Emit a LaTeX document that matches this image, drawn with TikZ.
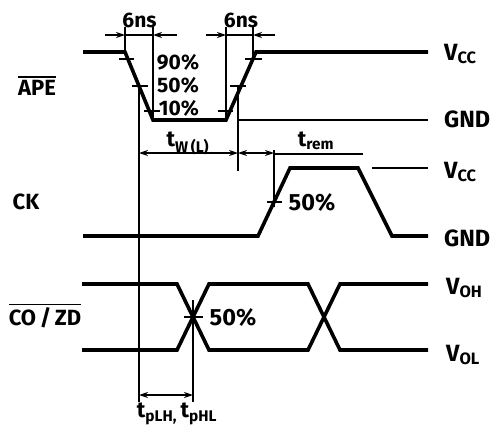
\documentclass[tikz,border=0pt]{standalone}
\usepackage{fontspec}
\setmainfont{Fira Sans}
\usetikzlibrary{arrows.meta}
\newcommand\ovltext[1]{\leavevmode\vbox{\hrule height 1.6pt\kern 2.2pt\hbox{#1}}}
\begin{document}
\begin{tikzpicture}[x=1pt,y=-1pt,
  wave/.style={line width=3.6pt, line join=miter},
  thinline/.style={line width=1.2pt},
  tip/.tip={Stealth[length=9pt,width=6pt]},
  dimr/.style={thinline, -tip},
  dimb/.style={thinline, tip-tip},
  lbl/.style={font=\fontsize{23.5}{26}\selectfont\bfseries, inner sep=0pt},
  pct/.style={font=\fontsize{21}{24}\selectfont\bfseries, inner sep=0pt},
  sig/.style={font=\fontsize{22}{25}\selectfont\bfseries, inner sep=0pt},
  tlbl/.style={font=\fontsize{22}{25}\selectfont\bfseries, inner sep=0pt},
]
\useasboundingbox (0,0) rectangle (497,434);

% ---------- APE ----------
\draw[wave] (83,52) -- (125,52) -- (153,120) -- (226,120) -- (256,52) -- (428,52);
\draw[thinline] (238,120) -- (428,120);
% verticals
\draw[thinline] (125,27) -- (125,53);
\draw[thinline] (153,27) -- (153,120);
\draw[thinline] (226,27) -- (226,120);
\draw[thinline] (253,27) -- (253,59);
% ticks
\draw[thinline] (119,59) -- (134,59);
\draw[thinline] (132,86) -- (148,86);
\draw[thinline] (144,111) -- (160,111);
\draw[thinline] (218,111) -- (233,111);
\draw[thinline] (230,86) -- (246,86);
\draw[thinline] (245,59) -- (262,59);
% 6ns arrows
\coordinate (a1) at (125,35); \coordinate (a2) at (153,35);
\coordinate (b1) at (226,35); \coordinate (b2) at (253,35);
\draw[thinline] (a1) -- (a2);
\draw[thinline] (b1) -- (b2);
\draw[dimr] (105,35) -- (a1);
\draw[dimr] (177,35) -- (a2);
\draw[dimr] (206,35) -- (b1);
\draw[dimr] (275,35) -- (b2);
\node[pct] (ns1) at (139.5,20) {6ns};
\node[pct] (ns2) at (241,20) {6ns};
\node[pct] (p90) at (178,62) {90\%};
\node[pct] (p50) at (178,85) {50\%};
\node[pct] (p10) at (179,108) {10\%};

% long verticals
\draw[thinline] (139,86) -- (139,402);
\draw[thinline] (238,86) -- (238,171);
% tW(L)
\draw[dimb] (139,153) -- (238,153);
\node[tlbl] (tw) at (188,143) {t\textsubscript{W\,(L)}};
% trem
\draw[thinline] (274,150) -- (274,207);
\draw[dimb] (238,153) -- (274,153);
\draw[thinline] (274,154) -- (363,154);
\node[tlbl] (trem) at (316,141) {t\textsubscript{rem}};

% ---------- CK ----------
\draw[wave] (83,236) -- (258,236) -- (290,168) -- (358,168) -- (392,236) -- (428,236);
\draw[thinline] (372,168) -- (428,168);
\draw[thinline] (267,202) -- (282,202);
\node[lbl] (ck50) at (312,203) {50\%};

% ---------- CO/ZD ----------
\draw[wave] (82,284) -- (177,284) -- (209,350) -- (308,350) -- (340,284) -- (428,284);
\draw[wave] (82,350) -- (177,350) -- (209,284) -- (308,284) -- (340,350) -- (428,350);
\draw[thinline] (193,300) -- (193,402);
\draw[thinline] (184,317) -- (203,317);
\node[lbl] (co50) at (233,318) {50\%};
\draw[dimb] (139,395) -- (193,395);
\node[tlbl] (tp) at (177,414) {t\textsubscript{pLH,}\,t\textsubscript{pHL}};

% ---------- signal names ----------
\node[sig] (ape) at (37,86) {\ovltext{APE}};
\node[sig] (ck) at (26,202) {CK};
\node[sig] (cozd) at (45,316) {\ovltext{CO\,/\,ZD}};

% ---------- levels ----------
\node[lbl, anchor=west] (vcc1) at (444,54) {V\textsubscript{CC}};
\node[lbl, anchor=west] (gnd1) at (444,119) {GND};
\node[lbl, anchor=west] (vcc2) at (444,172) {V\textsubscript{CC}};
\node[lbl, anchor=west] (gnd2) at (444,238) {GND};
\node[lbl, anchor=west] (voh) at (446,288) {V\textsubscript{OH}};
\node[lbl, anchor=west] (vol) at (446,355) {V\textsubscript{OL}};
\end{tikzpicture}
\end{document}
